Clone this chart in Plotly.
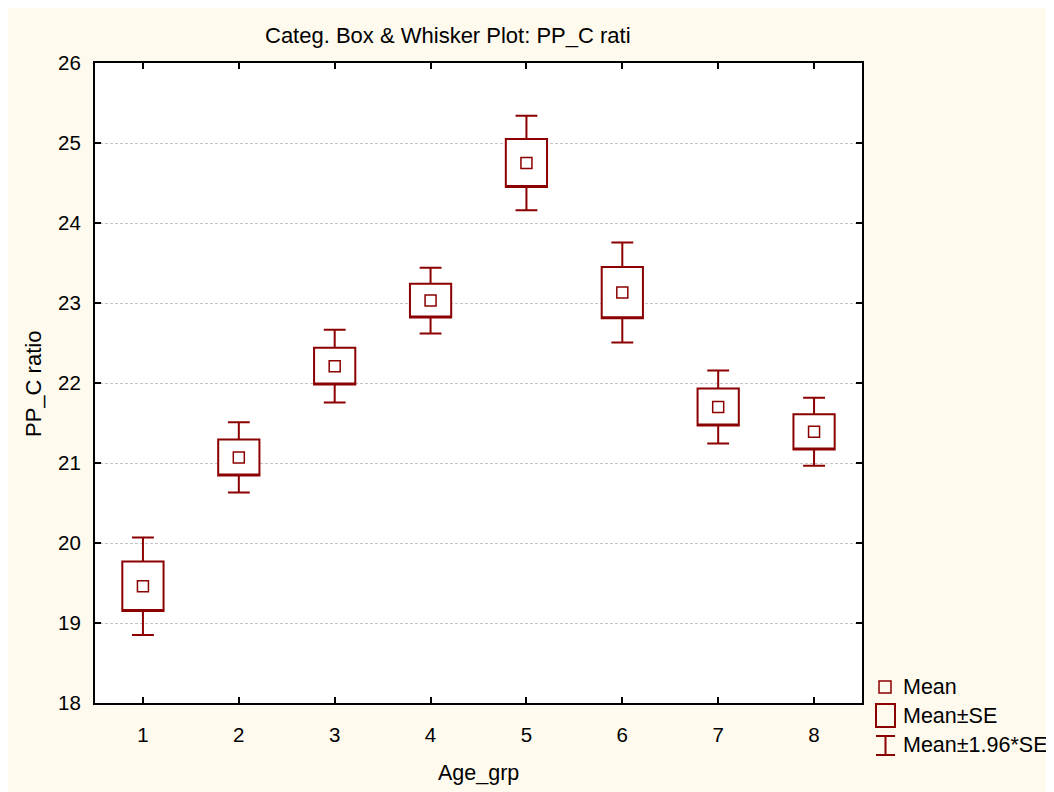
import plotly.graph_objects as go

# ---- data ----
groups = [1, 2, 3, 4, 5, 6, 7, 8]
tick_labels = ["1", "2", "3", "4", "5", "6", "7", "8"]
means = [19.46, 21.07, 22.21, 23.03, 24.75, 23.13, 21.70, 21.39]
se = [0.31, 0.225, 0.23, 0.21, 0.30, 0.32, 0.23, 0.22]
ci196 = [0.61, 0.44, 0.455, 0.41, 0.59, 0.625, 0.455, 0.425]
y_ticks = [18, 19, 20, 21, 22, 23, 24, 25, 26]

RED = "#8B0000"
CREAM = "#FFFAEE"
FONT = "Liberation Sans, Arial, sans-serif"

# figure is placed at page offset (8, 8) by the html body margin
W, H = 1040, 784
L, T = 87, 55
PW, PH = 767, 640
R = W - L - PW
B = H - T - PH
PAGE_L, PAGE_T = 95, 63  # plot-area corner in page pixels


def px2x(px):
    return (px - PAGE_L) / PW


def px2y(py):
    return (PAGE_T + PH - py) / PH


q1 = [m - s for m, s in zip(means, se)]
q3 = [m + s for m, s in zip(means, se)]
lo = [m - c for m, c in zip(means, ci196)]
hi = [m + c for m, c in zip(means, ci196)]

fig = go.Figure()
fig.add_trace(go.Box(
    x=groups, q1=q1, median=q1, q3=q3, lowerfence=lo, upperfence=hi,
    width=0.43, whiskerwidth=0.53,
    line=dict(color=RED, width=2), fillcolor="white",
    boxpoints=False, hoverinfo="skip", showlegend=False,
))
fig.add_trace(go.Scatter(
    x=groups, y=means, mode="markers",
    marker=dict(symbol="square-open", size=11, color=RED, line=dict(width=1.5, color=RED)),
    showlegend=False, hoverinfo="skip",
))

shapes = [
    # legend symbols
    dict(type="rect", xref="paper", yref="paper",
         x0=px2x(879), x1=px2x(891), y0=px2y(693), y1=px2y(681),
         line=dict(color=RED, width=1.5)),
    dict(type="rect", xref="paper", yref="paper",
         x0=px2x(876), x1=px2x(895), y0=px2y(727), y1=px2y(704),
         line=dict(color=RED, width=2)),
    dict(type="line", xref="paper", yref="paper",
         x0=px2x(885.5), x1=px2x(885.5), y0=px2y(755), y1=px2y(736),
         line=dict(color=RED, width=2)),
    dict(type="line", xref="paper", yref="paper",
         x0=px2x(876), x1=px2x(895), y0=px2y(736), y1=px2y(736),
         line=dict(color=RED, width=2)),
    dict(type="line", xref="paper", yref="paper",
         x0=px2x(876), x1=px2x(895), y0=px2y(755), y1=px2y(755),
         line=dict(color=RED, width=2)),
]

legend_texts = ["Mean", "Mean±SE", "Mean±1.96*SE"]
legend_y = [687, 716, 745]
annotations = []
for t, yy in zip(legend_texts, legend_y):
    annotations.append(dict(text=t, x=px2x(901), y=px2y(yy), xref="paper", yref="paper",
                            xanchor="left", yanchor="middle", showarrow=False,
                            font=dict(size=21.5, color="black", family=FONT)))
annotations.append(dict(text="Categ. Box & Whisker Plot: PP_C rati", x=px2x(447.5), y=px2y(35),
                        xref="paper", yref="paper", xanchor="center", yanchor="middle",
                        showarrow=False, font=dict(size=22, color="black", family=FONT)))
annotations.append(dict(text="Age_grp", x=px2x(478), y=px2y(773),
                        xref="paper", yref="paper", xanchor="center", yanchor="middle",
                        showarrow=False, font=dict(size=21.5, color="black", family=FONT)))
annotations.append(dict(text="PP_C ratio", x=px2x(33), y=px2y(384), textangle=-90,
                        xref="paper", yref="paper", xanchor="center", yanchor="middle",
                        showarrow=False, font=dict(size=22, color="black", family=FONT)))

fig.update_layout(
    width=W, height=H,
    margin=dict(l=L, r=R, t=T, b=B, pad=0),
    paper_bgcolor=CREAM, plot_bgcolor="white",
    font=dict(family=FONT, size=21, color="black"),
    shapes=shapes, annotations=annotations, showlegend=False,
)
fig.update_xaxes(
    range=[0.5, 8.5], tickmode="array", tickvals=groups, ticktext=tick_labels,
    showgrid=False, zeroline=False, showline=True, linecolor="black", linewidth=2,
    mirror="ticks", ticks="inside", ticklen=6, tickwidth=2, tickcolor="black",
    ticklabelstandoff=12, tickfont=dict(size=20.5),
)
fig.update_yaxes(
    range=[18, 26], tickmode="array", tickvals=y_ticks,
    showgrid=True, gridcolor="#c4c4c4", gridwidth=1, griddash="3px,2px",
    zeroline=False, showline=True, linecolor="black", linewidth=2,
    mirror="ticks", ticks="inside", ticklen=6, tickwidth=2, tickcolor="black",
    ticklabelstandoff=8, tickfont=dict(size=20.5),
)

fig.write_html("out.html")
